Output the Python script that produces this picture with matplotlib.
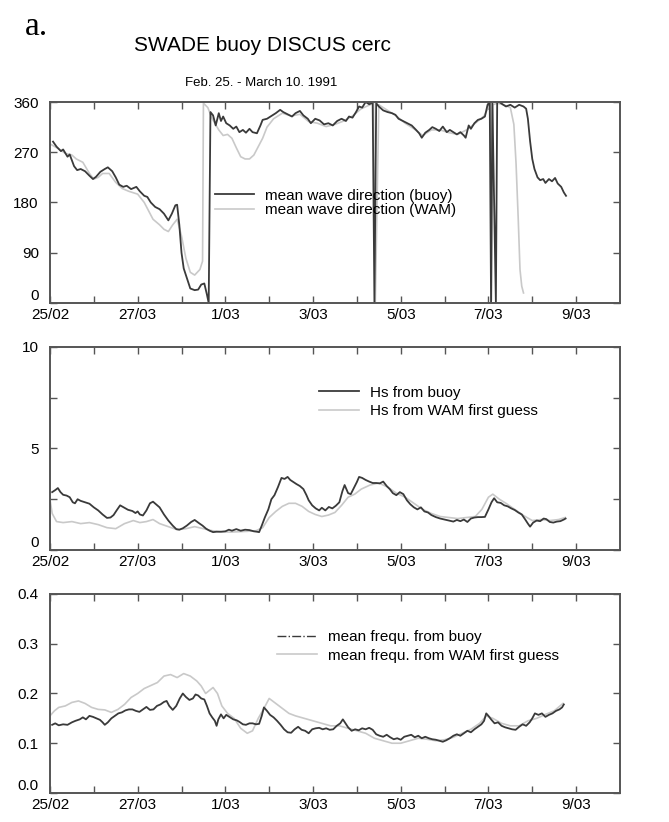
import numpy as np
import matplotlib.pyplot as plt
from matplotlib.lines import Line2D

plt.rcParams['font.family'] = ['Liberation Sans', 'DejaVu Sans']

# x axis: days since 25/02 1991
day_ticks = [0, 1, 2, 3, 4, 5, 6, 7, 8, 9, 10, 11, 12]
day_labels = ['25/02', '', '27/03', '', '1/03', '', '3/03', '', '5/03', '', '7/03', '', '9/03']

# mean wave direction, buoy
dir_buoy_t = [0.07, 0.15, 0.25, 0.3, 0.4, 0.45, 0.55, 0.62, 0.7, 0.8, 0.9, 0.98, 1.05, 1.15, 1.25, 1.32,
              1.42, 1.5, 1.58, 1.67, 1.75, 1.85, 1.97, 2.05, 2.15, 2.22, 2.3, 2.4, 2.5, 2.6, 2.7, 2.78,
              2.86, 2.9, 2.95, 3.0, 3.05, 3.12, 3.2, 3.3, 3.38, 3.45, 3.52, 3.58, 3.62, 3.66, 3.72, 3.78,
              3.85, 3.9, 3.95, 4.02, 4.1, 4.18, 4.25, 4.32, 4.4, 4.47, 4.55, 4.62, 4.72, 4.8, 4.85, 4.95,
              5.05, 5.15, 5.25, 5.32, 5.42, 5.52, 5.6, 5.7, 5.78, 5.88, 5.95, 6.05, 6.15, 6.25, 6.35, 6.45,
              6.55, 6.65, 6.75, 6.82, 6.9, 6.98, 7.05, 7.12, 7.2, 7.28, 7.36, 7.4, 7.44, 7.5, 7.6, 7.7,
              7.8, 7.88, 7.95, 8.05, 8.15, 8.25, 8.35, 8.42, 8.48, 8.56, 8.65, 8.72, 8.8, 8.88, 8.96, 9.05,
              9.12, 9.2, 9.28, 9.36, 9.44, 9.48, 9.55, 9.6, 9.68, 9.76, 9.84, 9.92, 9.98, 10.03, 10.06, 10.09,
              10.17, 10.2, 10.25, 10.32, 10.4, 10.5, 10.6, 10.7, 10.8, 10.86, 10.9, 10.95, 11.0, 11.05, 11.12, 11.18,
              11.25, 11.3, 11.38, 11.45, 11.52, 11.58, 11.66, 11.72, 11.77]
dir_buoy = [289, 280, 272, 275, 262, 266, 245, 238, 240, 236, 228, 222, 226, 235, 240, 243,
            236, 225, 212, 208, 210, 204, 208, 200, 192, 190, 180, 172, 168, 160, 148, 160,
            175, 176, 140, 90, 62, 45, 26, 23, 24, 33, 35, 15, 0, 342, 336, 318,
            340, 326, 334, 322, 318, 312, 316, 306, 310, 305, 312, 306, 304, 318, 328, 330,
            335, 340, 346, 342, 338, 334, 340, 344, 336, 330, 322, 330, 327, 320, 322, 318,
            326, 330, 326, 334, 332, 342, 352, 350, 360, 356, 359, 0, 358, 352, 345, 342,
            340, 337, 330, 326, 322, 318, 310, 304, 296, 305, 310, 315, 312, 308, 316, 306,
            310, 306, 302, 306, 300, 296, 318, 312, 322, 328, 330, 334, 355, 360, 0, 360,
            0, 360, 360, 356, 352, 355, 350, 355, 352, 348, 330, 290, 258, 240, 225, 220,
            222, 215, 222, 218, 224, 214, 208, 198, 192]

# mean wave direction, WAM
dir_wam_t = [0.0, 0.2, 0.35, 0.5, 0.6, 0.75, 0.9, 1.0, 1.1, 1.2, 1.35, 1.5, 1.65, 1.8, 2.0, 2.15,
             2.25, 2.35, 2.5, 2.6, 2.7, 2.8, 2.9, 3.0, 3.1, 3.2, 3.3, 3.42, 3.48, 3.5, 3.6, 3.7,
             3.85, 3.95, 4.05, 4.15, 4.25, 4.35, 4.45, 4.55, 4.65, 4.75, 4.85, 4.95, 5.1, 5.3, 5.5, 5.7,
             5.9, 6.1, 6.3, 6.5, 6.7, 6.9, 7.1, 7.3, 7.38, 7.42, 7.5, 7.7, 7.9, 8.1, 8.3, 8.5,
             8.7, 8.9, 9.1, 9.3, 9.5, 9.7, 9.9, 10.0, 10.05, 10.07, 10.1, 10.2, 10.35, 10.5, 10.58, 10.63,
             10.68, 10.72, 10.76, 10.8]
dir_wam = [285, 276, 268, 265, 258, 252, 232, 222, 225, 232, 232, 216, 205, 200, 195, 180,
           165, 150, 140, 132, 128, 140, 150, 120, 80, 55, 50, 60, 75, 358, 350, 330,
           310, 300, 302, 295, 278, 262, 258, 258, 265, 280, 295, 315, 330, 340, 335, 338,
           325, 322, 316, 320, 326, 335, 348, 355, 358, 2, 355, 345, 335, 322, 312, 300,
           310, 310, 305, 302, 310, 322, 335, 350, 358, 5, 355, 358, 355, 350, 320, 250,
           150, 60, 30, 18]

# significant wave height Hs
hs_buoy_t = [0.05, 0.12, 0.18, 0.24, 0.3, 0.38, 0.45, 0.52, 0.57, 0.63, 0.7, 0.8, 0.9, 1.0, 1.1, 1.2,
             1.3, 1.38, 1.45, 1.52, 1.6, 1.68, 1.78, 1.88, 1.95, 2.0, 2.05, 2.12, 2.2, 2.28, 2.35, 2.42,
             2.5, 2.6, 2.7, 2.8, 2.88, 2.95, 3.03, 3.12, 3.22, 3.3, 3.4, 3.48, 3.56, 3.64, 3.72, 3.8,
             3.9, 4.0, 4.08, 4.15, 4.25, 4.35, 4.45, 4.55, 4.65, 4.72, 4.77, 4.83, 4.9, 4.98, 5.05, 5.12,
             5.2, 5.28, 5.35, 5.42, 5.48, 5.55, 5.62, 5.7, 5.78, 5.85, 5.9, 5.98, 6.06, 6.14, 6.2, 6.28,
             6.36, 6.44, 6.52, 6.6, 6.67, 6.72, 6.8, 6.86, 6.93, 7.0, 7.05, 7.12, 7.2, 7.28, 7.36, 7.44,
             7.52, 7.6, 7.68, 7.75, 7.82, 7.9, 7.98, 8.06, 8.14, 8.22, 8.3, 8.38, 8.46, 8.54, 8.62, 8.7,
             8.8, 8.9, 9.0, 9.1, 9.2, 9.28, 9.36, 9.44, 9.52, 9.6, 9.68, 9.76, 9.84, 9.92, 10.0, 10.07,
             10.13, 10.2, 10.28, 10.36, 10.44, 10.52, 10.6, 10.68, 10.76, 10.84, 10.9, 10.95, 11.02, 11.1, 11.18, 11.26,
             11.32, 11.4, 11.48, 11.56, 11.64, 11.72, 11.76]
hs_buoy = [2.85, 2.95, 3.05, 2.85, 2.72, 2.68, 2.6, 2.35, 2.3, 2.5, 2.42, 2.35, 2.28, 2.1, 1.95, 1.75,
           1.58, 1.6, 1.72, 1.95, 2.2, 2.1, 1.98, 1.92, 1.82, 1.9, 1.75, 1.7, 1.95, 2.3, 2.38, 2.25,
           2.1, 1.75, 1.45, 1.2, 1.03, 1.0, 1.07, 1.2, 1.38, 1.48, 1.32, 1.2, 1.05, 0.95, 0.88, 0.9,
           0.9, 0.92, 1.0, 0.95, 1.03, 0.95, 1.0, 0.98, 0.92, 0.9, 0.88, 1.2, 1.6, 2.0, 2.5, 2.7,
           3.1, 3.55, 3.5, 3.6, 3.45, 3.35, 3.25, 3.15, 3.0, 2.7, 2.45, 2.2, 2.05, 1.95, 2.08, 1.95,
           2.12, 2.05, 2.18, 2.35, 2.9, 3.2, 2.8, 2.75, 3.05, 3.35, 3.6, 3.55, 3.45, 3.37, 3.3, 3.3,
           3.28, 3.37, 3.15, 3.0, 2.8, 2.7, 2.85, 2.75, 2.45, 2.25, 2.1, 2.0, 2.1, 1.9, 1.85, 1.72,
           1.62, 1.55, 1.5, 1.45, 1.4, 1.48, 1.42, 1.5, 1.38, 1.55, 1.6, 1.62, 1.62, 1.63, 2.0, 2.35,
           2.55, 2.35, 2.32, 2.2, 2.15, 2.05, 1.97, 1.85, 1.75, 1.5, 1.3, 1.15, 1.35, 1.45, 1.42, 1.55,
           1.52, 1.38, 1.35, 1.4, 1.42, 1.5, 1.55]

hs_wam_t = [0.0, 0.05, 0.15, 0.3, 0.5, 0.7, 0.9, 1.1, 1.3, 1.5, 1.7, 1.9, 2.05, 2.2, 2.35, 2.5,
            2.7, 2.9, 3.1, 3.3, 3.5, 3.7, 3.9, 4.1, 4.3, 4.5, 4.7, 4.85, 5.0, 5.15, 5.3, 5.45,
            5.6, 5.75, 5.9, 6.05, 6.2, 6.35, 6.5, 6.65, 6.8, 6.95, 7.1, 7.3, 7.5, 7.7, 7.9, 8.1,
            8.3, 8.5, 8.7, 8.9, 9.1, 9.3, 9.5, 9.7, 9.85, 10.0, 10.1, 10.25, 10.4, 10.6, 10.8, 11.0,
            11.2, 11.4, 11.6, 11.75]
hs_wam = [2.5, 1.8, 1.4, 1.35, 1.4, 1.3, 1.35, 1.25, 1.1, 1.05, 1.3, 1.45, 1.35, 1.4, 1.5, 1.3,
          1.15, 1.0, 1.05, 1.15, 1.05, 0.95, 0.9, 0.88, 0.9, 0.92, 0.95, 1.1, 1.6, 1.9, 2.15, 2.3,
          2.3, 2.15, 1.9, 1.75, 1.65, 1.72, 1.85, 2.2, 2.6, 2.75, 3.0, 3.2, 3.3, 3.1, 2.8, 2.6,
          2.3, 2.0, 1.8, 1.65, 1.6, 1.55, 1.6, 1.65, 2.0, 2.6, 2.75, 2.5, 2.3, 2.0, 1.7, 1.45,
          1.5, 1.45, 1.5, 1.6]

# mean frequency
fm_buoy_t = [0.05, 0.12, 0.2, 0.3, 0.4, 0.5, 0.58, 0.68, 0.75, 0.82, 0.9, 0.98, 1.06, 1.14, 1.2, 1.25,
             1.32, 1.4, 1.48, 1.56, 1.64, 1.72, 1.8, 1.88, 1.96, 2.04, 2.12, 2.2, 2.28, 2.36, 2.44, 2.52,
             2.6, 2.66, 2.72, 2.8, 2.88, 2.96, 3.03, 3.1, 3.18, 3.26, 3.32, 3.38, 3.45, 3.52, 3.58, 3.64,
             3.7, 3.76, 3.8, 3.84, 3.9, 3.96, 4.02, 4.09, 4.18, 4.26, 4.32, 4.4, 4.47, 4.55, 4.62, 4.7,
             4.77, 4.83, 4.88, 4.95, 5.02, 5.1, 5.18, 5.26, 5.34, 5.42, 5.5, 5.58, 5.66, 5.74, 5.82, 5.9,
             5.98, 6.06, 6.14, 6.22, 6.3, 6.38, 6.46, 6.54, 6.62, 6.68, 6.74, 6.8, 6.88, 6.96, 7.04, 7.12,
             7.2, 7.28, 7.36, 7.44, 7.52, 7.6, 7.68, 7.76, 7.84, 7.92, 8.0, 8.08, 8.16, 8.24, 8.32, 8.4,
             8.48, 8.56, 8.64, 8.72, 8.8, 8.88, 8.96, 9.04, 9.12, 9.2, 9.28, 9.36, 9.44, 9.52, 9.6, 9.68,
             9.76, 9.84, 9.9, 9.95, 10.0, 10.06, 10.14, 10.22, 10.3, 10.38, 10.46, 10.54, 10.62, 10.7, 10.78, 10.86,
             10.94, 11.0, 11.06, 11.14, 11.22, 11.3, 11.38, 11.46, 11.54, 11.62, 11.68, 11.72]
fm_buoy = [0.137, 0.14, 0.136, 0.138, 0.137, 0.142, 0.145, 0.148, 0.152, 0.148, 0.155, 0.153, 0.15, 0.147, 0.142, 0.137,
           0.142, 0.15, 0.155, 0.16, 0.162, 0.166, 0.168, 0.168, 0.165, 0.163, 0.168, 0.173, 0.167, 0.168, 0.175, 0.178,
           0.183, 0.185, 0.175, 0.167, 0.175, 0.19, 0.2, 0.193, 0.187, 0.19, 0.198, 0.196, 0.19, 0.188, 0.175, 0.16,
           0.152, 0.145, 0.135, 0.148, 0.158, 0.15, 0.157, 0.153, 0.148, 0.146, 0.143, 0.138, 0.137, 0.14, 0.14, 0.138,
           0.139, 0.155, 0.172, 0.165, 0.157, 0.152, 0.145, 0.137, 0.128, 0.122, 0.121, 0.128, 0.133, 0.127, 0.125, 0.12,
           0.128, 0.13, 0.131, 0.128, 0.13, 0.127, 0.128, 0.135, 0.14, 0.148, 0.14, 0.132, 0.125, 0.128, 0.126, 0.13,
           0.128, 0.131, 0.127, 0.118, 0.115, 0.113, 0.117, 0.112, 0.108, 0.11, 0.107, 0.113, 0.115, 0.117, 0.112, 0.115,
           0.11, 0.113, 0.11, 0.108, 0.107, 0.105, 0.103, 0.106, 0.11, 0.115, 0.118, 0.115, 0.12, 0.125, 0.122, 0.128,
           0.133, 0.138, 0.145, 0.16, 0.155, 0.148, 0.14, 0.142, 0.135, 0.132, 0.13, 0.128, 0.127, 0.133, 0.138, 0.135,
           0.142, 0.15, 0.16, 0.157, 0.16, 0.153, 0.157, 0.16, 0.165, 0.168, 0.172, 0.178]

fm_wam_t = [0.0, 0.1, 0.2, 0.35, 0.5, 0.65, 0.8, 0.95, 1.1, 1.25, 1.4, 1.55, 1.7, 1.85, 2.0, 2.15,
            2.3, 2.45, 2.6, 2.75, 2.9, 3.05, 3.2, 3.35, 3.45, 3.55, 3.62, 3.72, 3.82, 3.92, 4.05, 4.2,
            4.35, 4.5, 4.62, 4.75, 4.88, 5.0, 5.15, 5.3, 5.45, 5.6, 5.8, 6.0, 6.2, 6.4, 6.6, 6.8,
            7.0, 7.2, 7.4, 7.6, 7.8, 8.0, 8.2, 8.4, 8.6, 8.8, 9.0, 9.2, 9.4, 9.6, 9.8, 9.95,
            10.1, 10.3, 10.5, 10.7, 10.9, 11.1, 11.3, 11.5, 11.7]
fm_wam = [0.155, 0.165, 0.172, 0.175, 0.182, 0.185, 0.18, 0.172, 0.168, 0.167, 0.162, 0.168, 0.178, 0.192, 0.2, 0.21,
          0.216, 0.222, 0.235, 0.238, 0.232, 0.24, 0.235, 0.225, 0.215, 0.2, 0.205, 0.212, 0.2, 0.175, 0.16, 0.15,
          0.13, 0.12, 0.125, 0.15, 0.17, 0.19, 0.18, 0.17, 0.16, 0.155, 0.15, 0.145, 0.14, 0.135, 0.135, 0.13,
          0.125, 0.12, 0.11, 0.105, 0.1, 0.1, 0.105, 0.11, 0.108, 0.105, 0.107, 0.112, 0.12, 0.128, 0.14, 0.155,
          0.15, 0.14, 0.135, 0.135, 0.145, 0.15, 0.158, 0.165, 0.18]

buoy_col = '#3a3a3a'
wam_col = '#c9c9c9'
frame_col = '#555555'

fig = plt.figure(figsize=(6.69, 8.22), dpi=100)

fig.text(0.037, 0.968, 'a.', fontsize=24, family='Liberation Serif', va='center', ha='left')
fig.text(0.393, 0.945, 'SWADE buoy DISCUS cerc', fontsize=15, ha='center', va='center')
fig.text(0.39, 0.899, 'Feb. 25. - March 10. 1991', fontsize=9.5, ha='center', va='center')

ax1 = fig.add_axes([0.0747, 0.6314, 0.852, 0.2445])
ax2 = fig.add_axes([0.0747, 0.3309, 0.852, 0.2470])
ax3 = fig.add_axes([0.0747, 0.0353, 0.852, 0.2421])


def style(ax, ymax, yticks, ylabels):
    ax.set_xlim(0, 13)
    ax.set_ylim(0, ymax)
    ax.set_xticks(day_ticks)
    ax.set_xticklabels(day_labels)
    ax.set_yticks(yticks)
    ax.set_yticklabels(ylabels)
    ax.tick_params(direction='in', top=True, right=True, length=5, width=1,
                   color=frame_col, labelsize=11)
    ax.tick_params(axis='x', pad=3.5)
    ax.tick_params(axis='y', pad=8)
    # the zero label sits just above the first date, as in the original
    ax.get_yticklabels()[0].set_verticalalignment('bottom')
    for s in ax.spines.values():
        s.set_color(frame_col)
        s.set_linewidth(1.4)


# wave direction
ax1.plot(dir_wam_t, dir_wam, color=wam_col, lw=1.2)
ax1.plot(dir_buoy_t, dir_buoy, color=buoy_col, lw=1.3)
style(ax1, 360, [0, 90, 180, 270, 360], ['0', '90', '180', '270', '360'])
ax1.legend([Line2D([], [], color=buoy_col, lw=1.3), Line2D([], [], color=wam_col, lw=1.2)],
           ['mean wave direction (buoy)', 'mean wave direction (WAM)'],
           loc='upper left', bbox_to_anchor=(0.278, 0.6), frameon=False, fontsize=11,
           handlelength=2.6, handletextpad=0.7, labelspacing=0.05, borderaxespad=0)

# Hs
ax2.plot(hs_wam_t, hs_wam, color=wam_col, lw=1.2)
ax2.plot(hs_buoy_t, hs_buoy, color=buoy_col, lw=1.3)
style(ax2, 10, [0, 2.5, 5, 7.5, 10], ['0', '', '5', '', '10'])
ax2.legend([Line2D([], [], color=buoy_col, lw=1.3), Line2D([], [], color=wam_col, lw=1.2)],
           ['Hs from buoy', 'Hs from WAM first guess'],
           loc='upper left', bbox_to_anchor=(0.462, 0.84), frameon=False, fontsize=11,
           handlelength=2.6, handletextpad=0.7, labelspacing=0.3, borderaxespad=0)

# mean frequency
ax3.plot(fm_wam_t, fm_wam, color=wam_col, lw=1.2)
ax3.plot(fm_buoy_t, fm_buoy, color=buoy_col, lw=1.3)
style(ax3, 0.4, [0.0, 0.1, 0.2, 0.3, 0.4], ['0.0', '0.1', '0.2', '0.3', '0.4'])
ax3.legend([Line2D([], [], color=buoy_col, lw=1.0, ls='-.'), Line2D([], [], color=wam_col, lw=1.2)],
           ['mean frequ. from buoy', 'mean frequ. from WAM first guess'],
           loc='upper left', bbox_to_anchor=(0.388, 0.85), frameon=False, fontsize=11,
           handlelength=2.6, handletextpad=0.7, labelspacing=0.3, borderaxespad=0)

fig.savefig('out.png', dpi=100)
